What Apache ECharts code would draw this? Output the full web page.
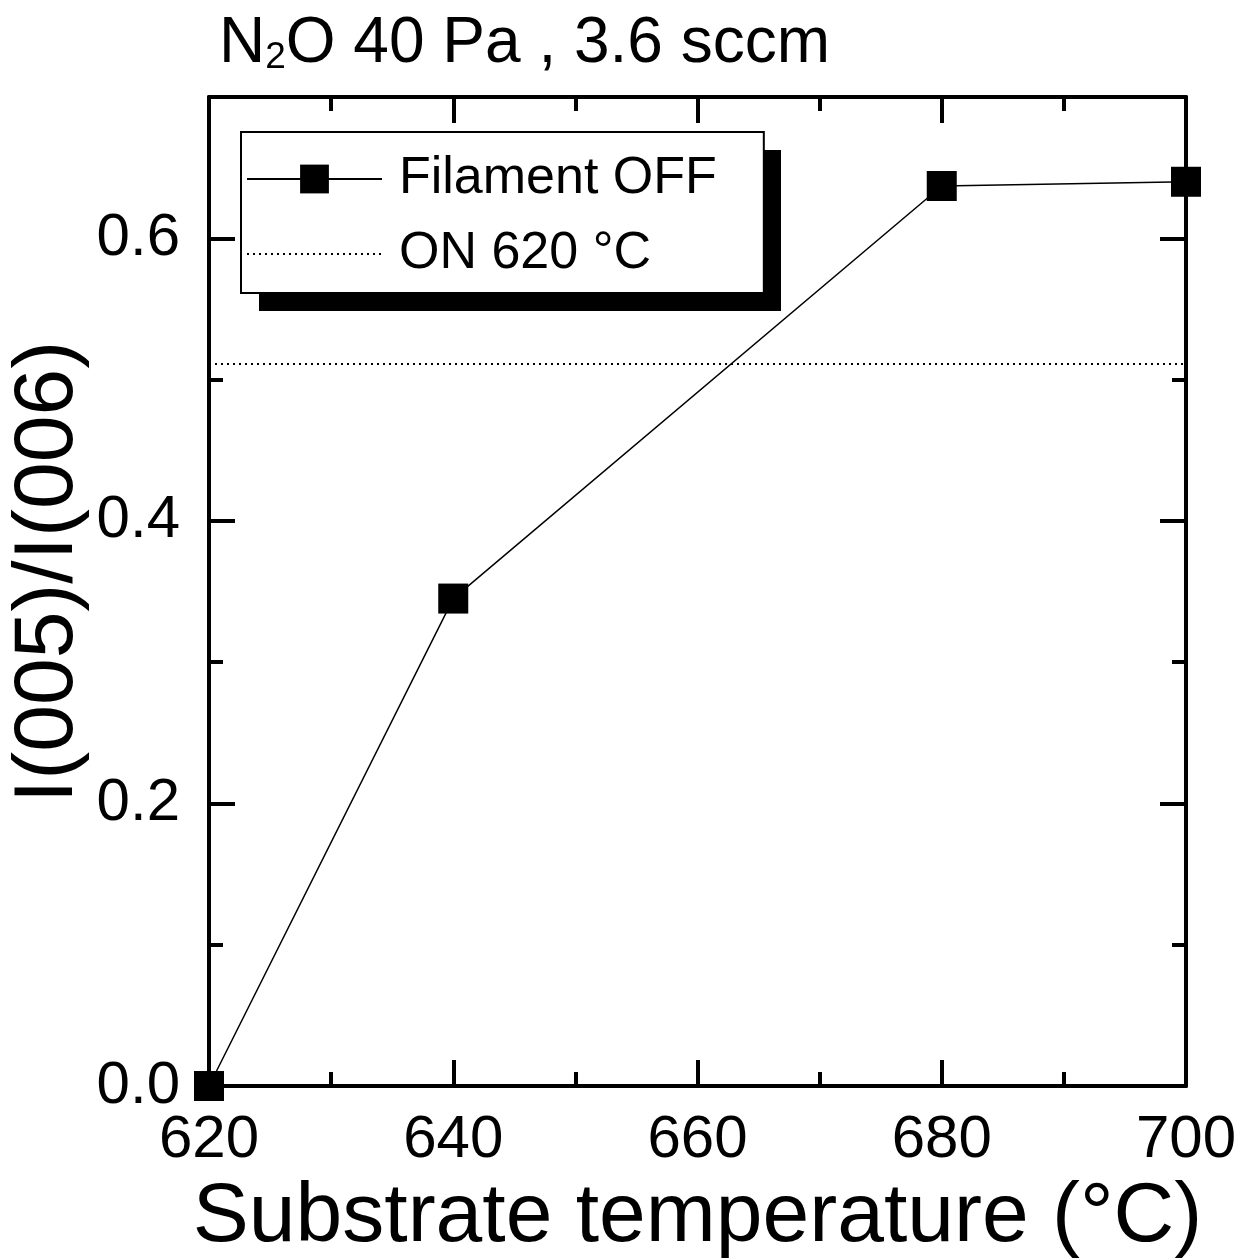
<!DOCTYPE html>
<html>
<head>
<meta charset="utf-8">
<title>I(005)/I(006) vs substrate temperature</title>
<script src="https://cdn.jsdelivr.net/npm/echarts@6/dist/echarts.min.js"></script>
<style>
  html, body { margin: 0; padding: 0; background: #fff; }
  .chart { width: 1244px; height: 1260px; }
</style>
</head>
<body>
<div class="chart"></div>
<script>
// 数据
var temps = [620, 640, 680, 700];          // 基板温度 (°C)
var ratioOff = [0.0, 0.345, 0.637, 0.640]; // Filament OFF
var ratioOn620 = 0.511;                    // ON 620 °C (水平虚线)
var xTicks = [620, 640, 660, 680, 700];
var yTicks = ['0.0', '0.2', '0.4', '0.6'];

var FONT = '"Liberation Sans", Arial, sans-serif';

var offData = temps.map(function (t, i) { return [t, ratioOff[i]]; });
var onData = [[xTicks[0], ratioOn620], [xTicks[xTicks.length - 1], ratioOn620]];

var chart = echarts.init(document.querySelector('.chart'));

// 共通の軸スタイル
var axisLine = { show: true, onZero: false, lineStyle: { color: '#000', width: 4 } };
var axisTick = { show: true, inside: true, length: 26, lineStyle: { color: '#000', width: 4 } };
var minorTick = { show: true, splitNumber: 2, length: 14, lineStyle: { color: '#000', width: 4 } };

function xAxis(pos, labels) {
  return {
    type: 'value', position: pos,
    min: xTicks[0], max: xTicks[xTicks.length - 1], interval: 20,
    axisLine: axisLine, axisTick: axisTick, minorTick: minorTick,
    splitLine: { show: false },
    axisLabel: {
      show: labels, margin: 24, color: '#000', fontSize: 60, fontFamily: FONT
    }
  };
}

function yAxis(pos, labels) {
  return {
    type: 'value', position: pos,
    min: 0, max: 0.7, interval: 0.2,
    axisLine: axisLine, axisTick: axisTick, minorTick: minorTick,
    splitLine: { show: false },
    axisLabel: {
      show: labels, margin: 29, color: '#000', fontSize: 60, fontFamily: FONT,
      formatter: function (v) {
        var s = v.toFixed(1);
        return yTicks.indexOf(s) >= 0 ? s : '';
      }
    }
  };
}

var bottomAxis = xAxis('bottom', true);
bottomAxis.name = 'Substrate temperature (°C)';
bottomAxis.nameLocation = 'middle';
bottomAxis.nameGap = 90;
bottomAxis.nameMoveOverlap = false;
bottomAxis.nameTextStyle = { color: '#000', fontSize: 84, fontFamily: FONT };

var option = {
  backgroundColor: '#fff',
  animation: false,
  title: {
    text: '{a|N}{b|2}{a|O 40 Pa , 3.6 sccm}',
    left: 219, top: 12, padding: 0,
    textStyle: {
      fontWeight: 'normal',
      rich: {
        a: { fontSize: 64, lineHeight: 64, fontFamily: FONT, fontWeight: 'normal', color: '#000', verticalAlign: 'bottom' },
        b: { fontSize: 37, lineHeight: 44, fontFamily: FONT, fontWeight: 'normal', color: '#000', verticalAlign: 'bottom' }
      }
    }
  },
  grid: { left: 209, right: 58, top: 97, bottom: 174, containLabel: false, outerBoundsMode: 'none' },
  xAxis: [bottomAxis, xAxis('top', false)],
  yAxis: [yAxis('left', true), yAxis('right', false)],
  // 凡例（枠）
  legend: {
    orient: 'vertical',
    left: 241, top: 132, z: 11,
    padding: [21, 47, 13, 5],
    itemWidth: 135, itemHeight: 36, itemGap: 23,
    backgroundColor: '#fff', borderColor: '#000', borderWidth: 2,
    textStyle: { color: '#000', fontSize: 52, fontFamily: FONT, padding: [0, 0, 0, 12] },
    data: [
      { name: 'Filament OFF' },
      { name: 'ON 620 °C', itemStyle: { opacity: 0 } }
    ]
  },
  graphic: [{
    // 凡例の黒い影
    type: 'rect', z: 10,
    shape: { x: 259, y: 150, width: 522, height: 161 },
    style: { fill: '#000' }
  }, {
    type: 'text',
    x: 49, y: 572,
    rotation: Math.PI / 2,
    style: {
      text: 'I(005)/I(006)',
      font: '84px ' + FONT,
      fill: '#000',
      align: 'center',
      verticalAlign: 'middle'
    }
  }],
  series: [{
    name: 'Filament OFF',
    type: 'line',
    data: offData,
    clip: false,
    symbol: 'rect',
    symbolSize: 30,
    itemStyle: { color: '#000' },
    lineStyle: { color: '#000', width: 1.5 },
    z: 5
  }, {
    name: 'ON 620 °C',
    type: 'line',
    data: onData,
    symbol: 'none',
    lineStyle: { color: '#000', width: 2, type: [2, 4] },
    z: 4
  }]
};

chart.setOption(option);
</script>
</body>
</html>
